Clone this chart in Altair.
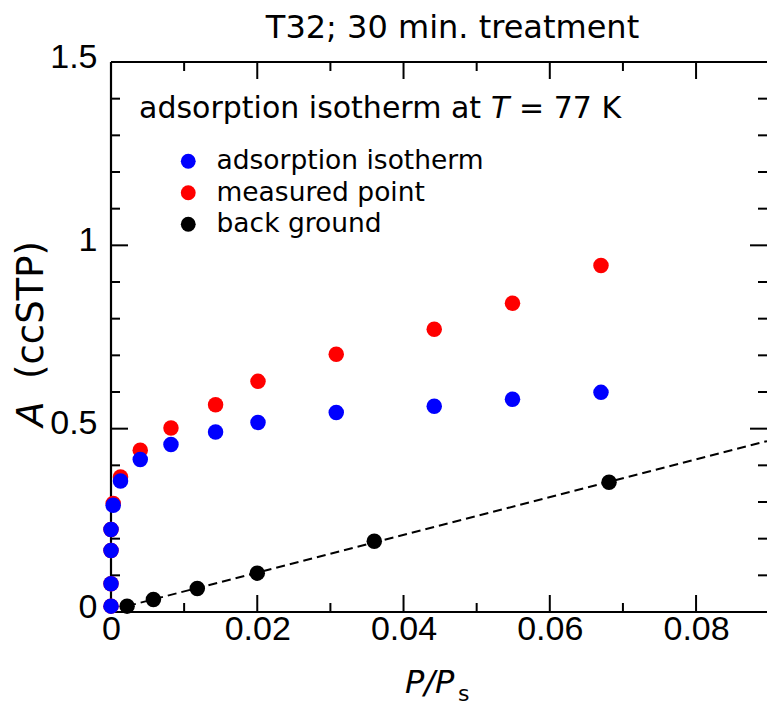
import altair as alt
import pandas as pd

# ---------------- data ----------------
series_names = ["adsorption isotherm", "measured point", "back ground"]
series_colors = ["#0000ff", "#ff0000", "#000000"]

iso_x = [0.0, 0.0, 0.0, 0.0, 0.0003, 0.0013, 0.0040, 0.0082, 0.0143, 0.0201, 0.0308, 0.0442, 0.0549, 0.0670]
iso_y = [0.016, 0.077, 0.168, 0.225, 0.291, 0.357, 0.416, 0.457, 0.491, 0.517, 0.544, 0.561, 0.580, 0.599]

meas_x = [0.0, 0.0, 0.0, 0.0, 0.0003, 0.0013, 0.0040, 0.0082, 0.0143, 0.0201, 0.0308, 0.0442, 0.0549, 0.0670]
meas_y = [0.016, 0.077, 0.168, 0.225, 0.296, 0.368, 0.441, 0.502, 0.565, 0.629, 0.703, 0.771, 0.842, 0.945]

bg_x = [0.0022, 0.0058, 0.0118, 0.0200, 0.0360, 0.0681]
bg_y = [0.016, 0.034, 0.064, 0.106, 0.193, 0.354]

fit_x = [0.0022, 0.0897]
fit_y = [0.016, 0.466]

x_labels = [0, 0.02, 0.04, 0.06, 0.08]
x_major = [0.02, 0.04, 0.06, 0.08]
x_minor = [0.01, 0.03, 0.05, 0.07]
y_labels = [0, 0.5, 1.0, 1.5]
y_major = [0.5, 1.0]
y_minor = [0.1, 0.2, 0.3, 0.4, 0.6, 0.7, 0.8, 0.9, 1.1, 1.2, 1.3, 1.4]

title_text = "T32; 30 min. treatment"
note_a = "adsorption isotherm at"
note_t = "T"
note_b = "= 77 K"
ytitle_a = "A"
ytitle_b = "(ccSTP)"
xtitle_a = "P/P"
xtitle_b = "s"

# ---------------- tables ----------------
pts = pd.concat([
    pd.DataFrame({"x": bg_x, "y": bg_y, "series": series_names[2]}),
    pd.DataFrame({"x": meas_x, "y": meas_y, "series": series_names[1]}),
    pd.DataFrame({"x": iso_x, "y": iso_y, "series": series_names[0]}),
], ignore_index=True)
fit = pd.DataFrame({"x": fit_x, "y": fit_y})

W, H = 656, 550
MAJ, MIN = 17, 9
LW = 2.2
FONT = "DejaVu Sans"
TICKFONT = "Liberation Sans"

xs = alt.Scale(domain=[0, 0.0897], nice=False, zero=False)
ys = alt.Scale(domain=[0, 1.5], nice=False, zero=False)
xax = alt.Axis(values=x_labels, format=".2~f", ticks=False, tickSize=0, domain=False, grid=False,
               labelFont=TICKFONT, labelFontSize=34, labelColor="black", labelPadding=0,
               labelFlush=False, labelOverlap=False)
yax = alt.Axis(values=y_labels, format=".1~f", ticks=False, tickSize=0, domain=False, grid=False,
               labelFont=TICKFONT, labelFontSize=34, labelColor="black", labelPadding=14,
               labelOffset=-5, labelFlush=False, labelOverlap=False)


def X(f):
    return alt.X(f, scale=xs, axis=xax, title=None)


def Y(f):
    return alt.Y(f, scale=ys, axis=yax, title=None)


one = pd.DataFrame({"k": [0]})
layers = []

# frame (top, left, bottom)
layers.append(alt.Chart(one).mark_rule(color="black", strokeWidth=LW).encode(
    x=alt.value(0), x2=alt.value(W), y=alt.value(0)))
layers.append(alt.Chart(one).mark_rule(color="black", strokeWidth=LW).encode(
    x=alt.value(0), y=alt.value(0), y2=alt.value(H)))
layers.append(alt.Chart(one).mark_rule(color="black", strokeWidth=LW).encode(
    x=alt.value(0), x2=alt.value(W), y=alt.value(H)))

# inward ticks
for vals, ln in ((x_major, MAJ), (x_minor, MIN)):
    d = pd.DataFrame({"x": vals})
    layers.append(alt.Chart(d).mark_rule(color="black", strokeWidth=2).encode(
        x=X("x:Q"), y=alt.value(H), y2=alt.value(H - ln)))
    layers.append(alt.Chart(d).mark_rule(color="black", strokeWidth=2).encode(
        x=X("x:Q"), y=alt.value(0), y2=alt.value(ln)))
for vals, ln in ((y_major, MAJ), (y_minor, MIN)):
    d = pd.DataFrame({"y": vals})
    layers.append(alt.Chart(d).mark_rule(color="black", strokeWidth=2).encode(
        y=Y("y:Q"), x=alt.value(0), x2=alt.value(ln)))
    layers.append(alt.Chart(d).mark_rule(color="black", strokeWidth=2).encode(
        y=Y("y:Q"), x=alt.value(W), x2=alt.value(W - ln)))

# dashed background fit
layers.append(alt.Chart(fit).mark_line(color="black", strokeWidth=2, strokeDash=[9, 5]).encode(
    x=X("x:Q"), y=Y("y:Q")))

# points
layers.append(alt.Chart(pts).mark_circle(size=240, opacity=1).encode(
    x=X("x:Q"), y=Y("y:Q"),
    color=alt.Color("series:N", title=None,
                    scale=alt.Scale(domain=series_names, range=series_colors),
                    legend=alt.Legend(orient="none", legendX=64, legendY=86, padding=0,
                                      labelFont=FONT, labelFontSize=26.5, labelColor="black",
                                      labelLimit=600,
                                      symbolType="circle", symbolSize=220, symbolStrokeWidth=0,
                                      symbolOpacity=1, rowPadding=4.5, labelOffset=15))))


def txt(s, x, y, size, style="normal", align="left", angle=0):
    m = alt.Chart(pd.DataFrame({"t": [s]})).mark_text(
        font=FONT, fontSize=size, fontStyle=style, align=align, baseline="alphabetic",
        color="black", angle=angle)
    return m.encode(text="t:N", x=alt.value(x), y=alt.value(y))


layers.append(txt(title_text, 341.5, -24, 32, align="center"))
layers.append(txt(note_a, 28, 56, 30))
layers.append(txt(note_t, 380, 56, 30, style="italic"))
layers.append(txt(note_b, 408, 56, 30))
layers.append(txt(ytitle_b, -68, 248, 37, align="center", angle=270))
layers.append(txt(ytitle_a, -68, 352, 37, style="italic", align="center", angle=270))
layers.append(txt(xtitle_a, 294, 631, 32, style="italic"))
layers.append(txt(xtitle_b, 347, 639, 22))

chart = alt.layer(*layers).properties(
    width=W, height=H,
    autosize=alt.AutoSizeParams(type="none"),
    padding={"left": 111, "top": 62, "right": 0, "bottom": 95},
).configure_view(strokeWidth=0).configure(background="white")

chart.save("out.html", embed_options={"renderer": "svg", "actions": False})
